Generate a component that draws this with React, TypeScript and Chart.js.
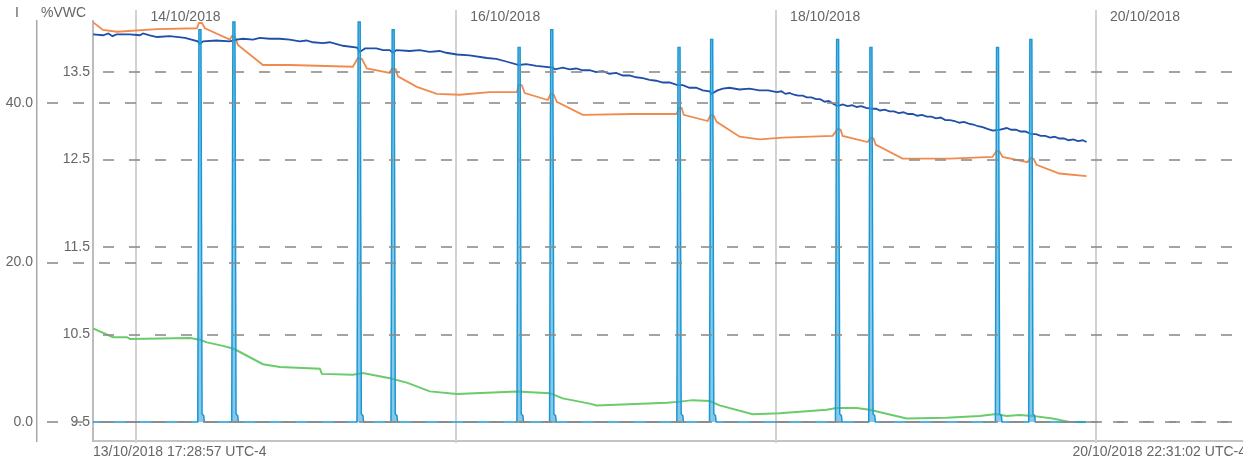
import React, { useEffect, useRef } from "react";
import { Chart, registerables } from "chart.js";

Chart.register(...registerables);

// Time axis: hours since 13/10/2018 00:00 (UTC-4)
const X_MIN = 17.4825; // 13/10/2018 17:28:57
const X_MAX = 190.5172; // 20/10/2018 22:31:02
const edgeLabels = ["13/10/2018 17:28:57 UTC-4", "20/10/2018 22:31:02 UTC-4"];
const dayTicks = [24, 72, 120, 168];
const dayLabels = ["14/10/2018", "16/10/2018", "18/10/2018", "20/10/2018"];
const vwcTicks = [9.5, 10.5, 11.5, 12.5, 13.5];
const iTicks = [0, 20, 40];
const axisTitleI = "I";
const axisTitleVWC = "%VWC";

// Dark blue series (%VWC)
const blueTimes = [17.5, 19.0, 19.8, 20.4, 21.0, 23.0, 24.5, 25.0, 26.0, 27.1, 29.0, 31.3, 33.2, 33.5, 34.0, 36.0, 38.0, 39.0, 40.0, 41.5, 42.5, 44.0, 45.5, 47.0, 48.5, 49.5, 50.5, 52.0, 53.0, 55.0, 57.1, 57.5, 58.3, 60.0, 61.0, 62.0, 62.5, 63.0, 65.0, 66.5, 68.0, 69.5, 70.5, 72.1, 74.0, 76.6, 78.0, 79.5, 81.4, 82.5, 84.0, 86.5, 86.8, 88.0, 89.0, 90.0, 91.0, 92.0, 93.0, 94.0, 95.0, 96.0, 97.0, 98.0, 99.0, 100.0, 101.0, 102.0, 103.0, 104.0, 105.2, 106.0, 107.0, 108.0, 109.0, 110.0, 110.3, 111.2, 112.0, 113.0, 114.5, 116.0, 117.5, 118.8,
  120.1, 120.8, 121.4, 122.0, 122.7, 123.3, 124.0, 124.6, 125.3, 126.0, 126.6, 127.3, 127.9, 128.5, 129.2, 130.0, 130.7, 131.4, 132.1, 132.8, 133.5, 134.3, 135.0, 135.6, 136.3, 137.0, 137.7, 138.4, 139.1, 139.8, 140.5, 141.2, 141.9, 142.6, 143.3, 144.0, 144.7, 145.4, 146.1, 146.8, 147.5, 148.2, 148.9, 149.6, 150.3, 151.0, 151.7, 152.5, 153.5, 154.6, 155.3, 156.0, 156.7, 157.4, 158.3, 159.0, 159.7, 160.4, 161.1, 161.8, 162.5, 163.2, 163.9, 164.6, 165.3, 166.0, 166.6];
const blueValues = [13.93, 13.92, 13.94, 13.91, 13.93, 13.93, 13.92, 13.94, 13.92, 13.90, 13.91, 13.89, 13.85, 13.82, 13.85, 13.86, 13.85, 13.87, 13.88, 13.87, 13.89, 13.88, 13.88, 13.87, 13.85, 13.86, 13.84, 13.83, 13.84, 13.80, 13.78, 13.73, 13.77, 13.77, 13.75, 13.75, 13.72, 13.75, 13.74, 13.75, 13.73, 13.74, 13.72, 13.70, 13.69, 13.66, 13.65, 13.62, 13.58, 13.59, 13.57, 13.55, 13.53, 13.55, 13.53, 13.54, 13.52, 13.52, 13.50, 13.51, 13.48, 13.49, 13.46, 13.46, 13.44, 13.43, 13.41, 13.40, 13.38, 13.38, 13.35, 13.35, 13.32, 13.32, 13.29, 13.28, 13.25, 13.29, 13.31, 13.32, 13.30, 13.31, 13.29, 13.29,
  13.27, 13.28, 13.25, 13.26, 13.24, 13.23, 13.23, 13.21, 13.21, 13.19, 13.19, 13.16, 13.17, 13.14, 13.11, 13.13, 13.11, 13.12, 13.10, 13.11, 13.09, 13.08, 13.08, 13.06, 13.07, 13.05, 13.05, 13.03, 13.04, 13.02, 13.02, 13.00, 13.01, 12.99, 12.99, 12.97, 12.98, 12.95, 12.95, 12.94, 12.92, 12.93, 12.91, 12.90, 12.88, 12.87, 12.85, 12.83, 12.84, 12.86, 12.84, 12.84, 12.82, 12.82, 12.79, 12.79, 12.77, 12.77, 12.75, 12.76, 12.74, 12.74, 12.72, 12.73, 12.71, 12.72, 12.70];

// Orange series (%VWC)
const orangeTimes = [17.48, 18.98, 21.08, 27.08, 33.08, 33.38, 33.83, 34.28, 38.03, 38.33, 38.78, 39.23, 42.98, 47.03, 56.48, 57.23, 57.83, 58.58, 62.03, 62.33, 62.93, 63.23, 66.08, 69.08, 72.53, 77.03, 81.08, 81.38, 81.83, 82.28, 85.73, 86.18, 86.63, 87.08, 90.98, 98.48, 105.08, 105.38, 105.83, 106.13, 109.73, 110.18, 110.63, 111.08, 114.53, 117.53, 120.98, 128.48, 129.23, 129.68, 129.98, 133.73, 134.18, 134.63, 134.93, 138.98, 146.03, 152.48, 153.08, 153.53, 153.98, 157.73, 158.18, 158.63, 159.08, 162.53, 166.58];
const orangeValues = [14.07, 13.98, 13.96, 13.99, 14.00, 14.06, 14.06, 14.00, 13.87, 13.91, 13.90, 13.81, 13.58, 13.58, 13.56, 13.66, 13.65, 13.54, 13.49, 13.54, 13.53, 13.45, 13.33, 13.25, 13.24, 13.27, 13.27, 13.35, 13.35, 13.26, 13.18, 13.25, 13.24, 13.16, 13.01, 13.02, 13.02, 13.09, 13.09, 13.01, 12.94, 13.01, 13.00, 12.93, 12.76, 12.73, 12.75, 12.77, 12.85, 12.84, 12.77, 12.70, 12.75, 12.74, 12.67, 12.51, 12.51, 12.53, 12.60, 12.59, 12.53, 12.47, 12.52, 12.51, 12.44, 12.34, 12.31];

// Green series (%VWC)
const greenTimes = [17.48, 20.48, 22.58, 23.03, 32.03, 33.53, 34.58, 36.98, 38.48, 39.53, 42.98, 45.53, 51.53, 51.83, 56.48, 57.98, 62.03, 64.58, 68.03, 72.08, 81.08, 86.03, 87.98, 92.03, 93.08, 103.58, 105.23, 107.48, 110.03, 111.53, 116.48, 120.53, 127.58, 129.08, 132.08, 134.03, 139.58, 145.58, 150.53, 153.08, 154.58, 156.53, 158.48, 161.48, 164.03, 166.58];
const greenValues = [10.57, 10.47, 10.47, 10.45, 10.46, 10.44, 10.41, 10.37, 10.34, 10.30, 10.16, 10.13, 10.11, 10.05, 10.04, 10.06, 10.00, 9.95, 9.85, 9.82, 9.85, 9.83, 9.77, 9.71, 9.69, 9.72, 9.73, 9.75, 9.74, 9.69, 9.59, 9.60, 9.64, 9.66, 9.66, 9.64, 9.54, 9.55, 9.57, 9.59, 9.57, 9.58, 9.57, 9.54, 9.50, 9.50];

// Light blue series (I)
const iTimes = [17.48,
  33.2, 33.38, 33.68, 33.85, 34.1, 34.2,
  38.3, 38.48, 38.78, 38.95, 39.2, 39.3,
  57.1, 57.28, 57.58, 57.75, 58.0, 58.1,
  62.2, 62.38, 62.68, 62.85, 63.1, 63.2,
  81.1, 81.28, 81.58, 81.75, 82.0, 82.1,
  86.0, 86.18, 86.48, 86.65, 86.9, 87.0,
  105.1, 105.28, 105.58, 105.75, 106.0, 106.1,
  110.0, 110.18, 110.48, 110.65, 110.9, 111.0,
  128.9, 129.08, 129.38, 129.55, 129.8, 129.9,
  133.9, 134.08, 134.38, 134.55, 134.8, 134.9,
  152.9, 153.08, 153.38, 153.55, 153.8, 153.9,
  157.9, 158.08, 158.38, 158.55, 158.8, 158.9,
  166.58];
const iValues = [0,
  0, 49.2, 49.2, 1.0, 0.8, 0,
  0, 50.2, 50.2, 1.0, 0.8, 0,
  0, 50.2, 50.2, 1.0, 0.8, 0,
  0, 49.2, 49.2, 1.0, 0.8, 0,
  0, 47.0, 47.0, 1.0, 0.8, 0,
  0, 49.2, 49.2, 1.0, 0.8, 0,
  0, 47.0, 47.0, 1.0, 0.8, 0,
  0, 48.0, 48.0, 1.0, 0.8, 0,
  0, 48.0, 48.0, 1.0, 0.8, 0,
  0, 47.0, 47.0, 1.0, 0.8, 0,
  0, 47.0, 47.0, 1.0, 0.8, 0,
  0, 48.0, 48.0, 1.0, 0.8, 0,
  0];

const FONT = "'Liberation Sans', Arial, Helvetica, sans-serif";
const TEXT = "#666666";

const pts = (t: number[], v: number[]) => t.map((x, i) => ({ x, y: v[i] }));

const decor = {
  id: "decor",
  beforeDatasetsDraw(chart: any) {
    const { ctx, chartArea, scales } = chart;
    const xs = scales.x;
    ctx.save();
    ctx.strokeStyle = "#d2d2d2";
    ctx.lineWidth = 2;
    dayTicks.forEach((v) => {
      const px = Math.round(xs.getPixelForValue(v));
      ctx.beginPath();
      ctx.moveTo(px, 10);
      ctx.lineTo(px, chartArea.bottom + 2);
      ctx.stroke();
    });
    ctx.restore();
  },
  afterDatasetsDraw(chart: any) {
    const { ctx, chartArea, scales } = chart;
    ctx.save();
    ctx.strokeStyle = "rgba(140,140,140,0.8)";
    ctx.lineWidth = 2;
    ctx.setLineDash([11, 15]);
    const yI = scales.yI;
    iTicks.forEach((v) => {
      const py = Math.round(yI.getPixelForValue(v));
      ctx.beginPath();
      ctx.moveTo(yI.right + 10, py);
      ctx.lineTo(chartArea.right, py);
      ctx.stroke();
    });
    const y = scales.y;
    vwcTicks.forEach((v) => {
      const py = Math.round(y.getPixelForValue(v));
      ctx.beginPath();
      ctx.moveTo(y.right + 10, py);
      ctx.lineTo(chartArea.right, py);
      ctx.stroke();
    });
    ctx.restore();
  },
  afterDraw(chart: any) {
    const { ctx, scales } = chart;
    ctx.save();
    ctx.fillStyle = TEXT;
    ctx.font = `14px ${FONT}`;
    ctx.textBaseline = "middle";
    ctx.textAlign = "left";
    ctx.fillText(axisTitleI, scales.yI.left + 15, 13);
    ctx.fillText(axisTitleVWC, scales.y.left + 4, 13);
    dayTicks.forEach((v, i) => {
      const px = scales.x.getPixelForValue(v);
      ctx.fillText(dayLabels[i], px + 14, 17);
    });
    ctx.restore();
  },
};

export default function App() {
  const ref = useRef<HTMLCanvasElement | null>(null);
  useEffect(() => {
    if (!ref.current) return;
    Chart.defaults.font.family = FONT;
    Chart.defaults.font.size = 14;
    Chart.defaults.color = TEXT;
    const chart = new Chart(ref.current, {
      type: "line",
      data: {
        datasets: [
          {
            label: "I",
            data: pts(iTimes, iValues),
            yAxisID: "yI",
            borderColor: "#1a98d4",
            backgroundColor: "rgba(70,170,220,0.65)",
            borderWidth: 1.5,
            fill: "origin",
            pointRadius: 0,
            tension: 0,
          },
          {
            label: "VWC 1",
            data: pts(blueTimes, blueValues),
            yAxisID: "y",
            borderColor: "#1f4fa6",
            borderWidth: 1.8,
            pointRadius: 0,
            tension: 0,
            fill: false,
          },
          {
            label: "VWC 2",
            data: pts(orangeTimes, orangeValues),
            yAxisID: "y",
            borderColor: "#f08a4e",
            borderWidth: 1.8,
            pointRadius: 0,
            tension: 0,
            fill: false,
          },
          {
            label: "VWC 3",
            data: pts(greenTimes, greenValues),
            yAxisID: "y",
            borderColor: "#6acb6a",
            borderWidth: 2,
            pointRadius: 0,
            tension: 0,
            fill: false,
          },
        ],
      },
      options: {
        animation: false,
        responsive: false,
        maintainAspectRatio: false,
        devicePixelRatio: 1,
        events: [],
        layout: { padding: { top: 21, right: 4, left: 0, bottom: 0 } },
        plugins: { legend: { display: false }, tooltip: { enabled: false } },
        scales: {
          x: {
            type: "linear",
            min: X_MIN,
            max: X_MAX,
            grid: { display: false, drawTicks: false },
            border: { display: true, color: "#c4c4c4", width: 2 },
            afterBuildTicks: (s: any) => {
              s.ticks = [{ value: X_MIN }, { value: X_MAX }];
            },
            afterFit: (s: any) => {
              s.height = 24;
            },
            ticks: {
              align: "inner",
              maxRotation: 0,
              autoSkip: false,
              padding: 3,
              color: TEXT,
              callback: (_v: any, i: number) => edgeLabels[i],
            },
          },
          y: {
            type: "linear",
            position: "left",
            weight: 1,
            min: 9.2829,
            max: 14.0829,
            grid: { display: false, drawTicks: false },
            border: { display: true, color: "#bcbcbc", width: 2 },
            afterBuildTicks: (s: any) => {
              s.ticks = vwcTicks.map((value) => ({ value }));
            },
            afterFit: (s: any) => {
              s.width = 56;
            },
            ticks: {
              padding: 3,
              color: TEXT,
              callback: (v: any) => Number(v).toFixed(1),
            },
          },
          yI: {
            type: "linear",
            position: "left",
            weight: 2,
            min: -2.384,
            max: 50.31,
            grid: { display: false, drawTicks: false },
            border: { display: true, color: "#a8a8a8", width: 1.5 },
            afterBuildTicks: (s: any) => {
              s.ticks = iTicks.map((value) => ({ value }));
            },
            afterFit: (s: any) => {
              s.width = 37;
            },
            ticks: {
              padding: 4,
              color: TEXT,
              callback: (v: any) => Number(v).toFixed(1),
            },
          },
        },
      } as any,
      plugins: [decor],
    });
    return () => chart.destroy();
  }, []);

  return (
    <div
      style={{
        position: "fixed",
        left: 0,
        top: 0,
        width: 1243,
        height: 465,
        overflow: "hidden",
        background: "#ffffff",
      }}
    >
      <canvas ref={ref} width={1250} height={465} style={{ display: "block" }} />
    </div>
  );
}
